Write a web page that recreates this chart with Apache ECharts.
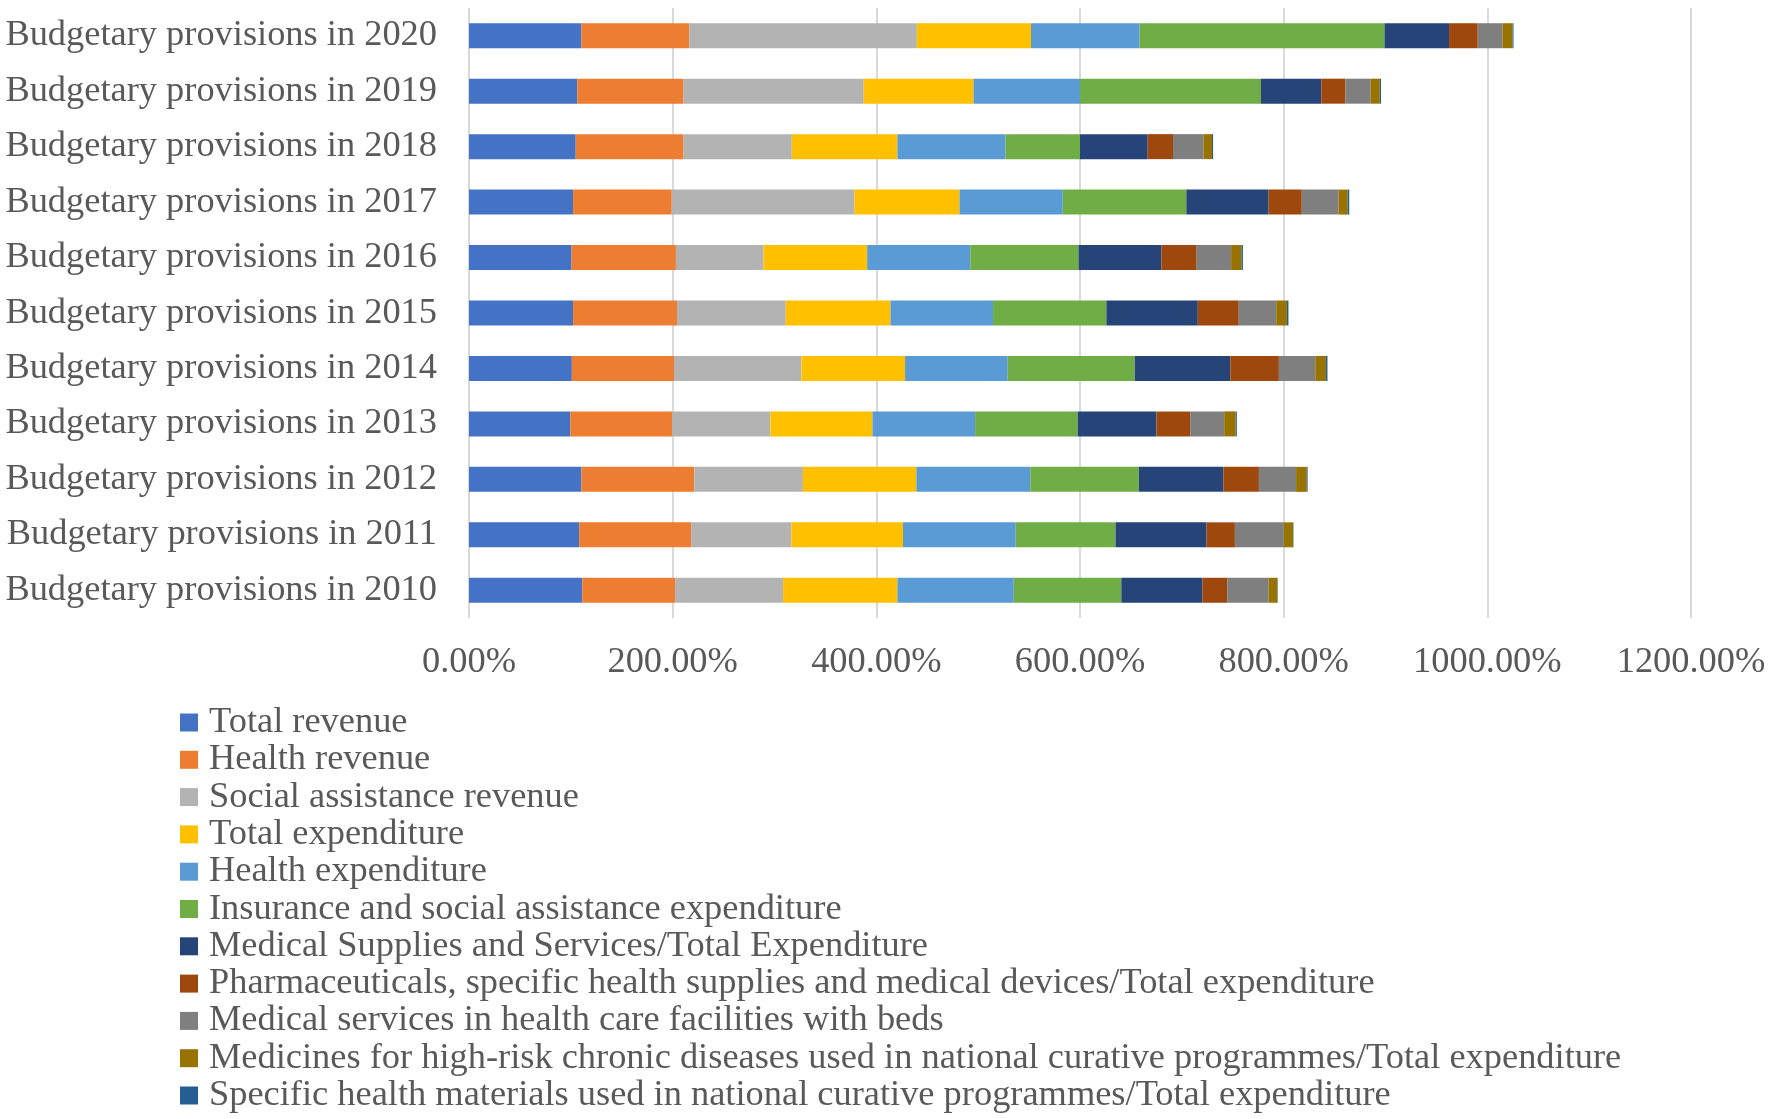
<!DOCTYPE html>
<html>
<head>
<meta charset="utf-8">
<title>Budgetary provisions</title>
<script src="https://cdn.jsdelivr.net/npm/echarts@6/dist/echarts.min.js"></script>
<style>
    html, body { margin: 0; padding: 0; background: #fff; }
    #chart { width: 1772px; height: 1119px; }
</style>
</head>
<body>
<div id="chart"></div>
<script>
// years from bottom (2010) to top (2020)
var years = ["Budgetary provisions in 2010", "Budgetary provisions in 2011", "Budgetary provisions in 2012",
    "Budgetary provisions in 2013", "Budgetary provisions in 2014", "Budgetary provisions in 2015",
    "Budgetary provisions in 2016", "Budgetary provisions in 2017", "Budgetary provisions in 2018",
    "Budgetary provisions in 2019", "Budgetary provisions in 2020"];

var seriesNames = [
    "Total revenue",
    "Health revenue",
    "Social assistance revenue",
    "Total expenditure",
    "Health expenditure",
    "Insurance and social assistance expenditure",
    "Medical Supplies and Services/Total Expenditure",
    "Pharmaceuticals, specific health supplies and medical devices/Total expenditure",
    "Medical services in health care facilities with beds",
    "Medicines for high-risk chronic diseases used in national curative programmes/Total expenditure",
    "Specific health materials used in national curative programmes/Total expenditure"
];

var totalRevenue     = [111.2, 108.2, 110.4, 99.5, 101.0, 102.2, 100.7, 102.2, 104.8, 106.3, 110.4];
var healthRevenue    = [91.2, 110.0, 110.8, 99.9, 100.3, 102.1, 102.5, 96.9, 105.9, 104.4, 105.9];
var socialRevenue    = [106.0, 98.4, 106.7, 96.6, 125.1, 106.7, 86.0, 179.5, 106.3, 176.9, 223.5];
var totalExpenditure = [112.3, 109.6, 111.4, 100.2, 101.8, 102.9, 101.8, 103.1, 103.7, 107.9, 112.1];
var healthExpend     = [114.3, 110.7, 111.9, 100.8, 100.8, 100.7, 101.3, 101.4, 106.1, 104.5, 106.7];
var insuranceExpend  = [105.6, 98.0, 106.6, 100.7, 124.7, 111.3, 106.2, 121.3, 73.2, 177.7, 240.4];
var medSupplies      = [79.6, 89.4, 83.0, 77.4, 93.9, 89.8, 81.5, 80.8, 66.5, 59.3, 63.4];
var pharma           = [24.4, 27.8, 34.9, 33.1, 47.7, 40.2, 34.6, 32.6, 24.8, 23.7, 28.2];
var medServicesBeds  = [40.6, 48.1, 36.5, 33.4, 35.7, 36.8, 33.8, 36.1, 30.0, 24.7, 24.3];
var chronicMedicines = [8.6, 9.0, 10.5, 11.3, 10.5, 10.5, 10.1, 9.0, 8.3, 9.0, 9.8];
var specificMaterial = [0.4, 0.4, 0.8, 1.1, 1.5, 1.5, 1.5, 1.5, 1.1, 1.2, 1.0];

var xTicks = [0, 200, 400, 600, 800, 1000, 1200];

var allData = [totalRevenue, healthRevenue, socialRevenue, totalExpenditure, healthExpend,
    insuranceExpend, medSupplies, pharma, medServicesBeds, chronicMedicines, specificMaterial];

var colors = ["#4472C4", "#ED7D31", "#B3B3B3", "#FFC000", "#5B9BD5", "#70AD47",
    "#264478", "#9E480E", "#7F7F7F", "#997300", "#255E91"];

var FONT = "'Liberation Serif', 'Times New Roman', serif";

const CHART = echarts.init(document.querySelector("#chart"));

CHART.setOption({
    animation: false,
    color: colors,
    grid: {
        left: 469,
        right: 81,
        top: 8,
        bottom: 501
    },
    legend: {
        orient: "vertical",
        left: 180,
        top: 704,
        padding: 0,
        itemWidth: 18,
        itemHeight: 18,
        itemGap: 0.3,
        icon: "rect",
        textStyle: {
            fontFamily: FONT,
            fontSize: 36.4,
            lineHeight: 37,
            color: "#595959",
            padding: [0, 0, 0, 6]
        },
        data: seriesNames
    },
    xAxis: {
        type: "value",
        min: xTicks[0],
        max: xTicks[xTicks.length - 1],
        interval: 200,
        axisLine: { show: false },
        axisTick: { show: false },
        splitLine: { lineStyle: { color: "#D9D9D9", width: 2 } },
        axisLabel: {
            margin: 26,
            fontFamily: FONT,
            fontSize: 36.4,
            color: "#595959",
            formatter: function (v) { return v.toFixed(2) + "%"; }
        }
    },
    yAxis: {
        type: "category",
        data: years,
        axisLine: { show: false },
        axisTick: { show: false },
        axisLabel: {
            margin: 32,
            fontFamily: FONT,
            fontSize: 36.4,
            color: "#595959"
        }
    },
    series: allData.map(function (d, i) {
        return {
            name: seriesNames[i],
            type: "bar",
            stack: "total",
            barWidth: 25,
            data: d
        };
    })
});
</script>
</body>
</html>
